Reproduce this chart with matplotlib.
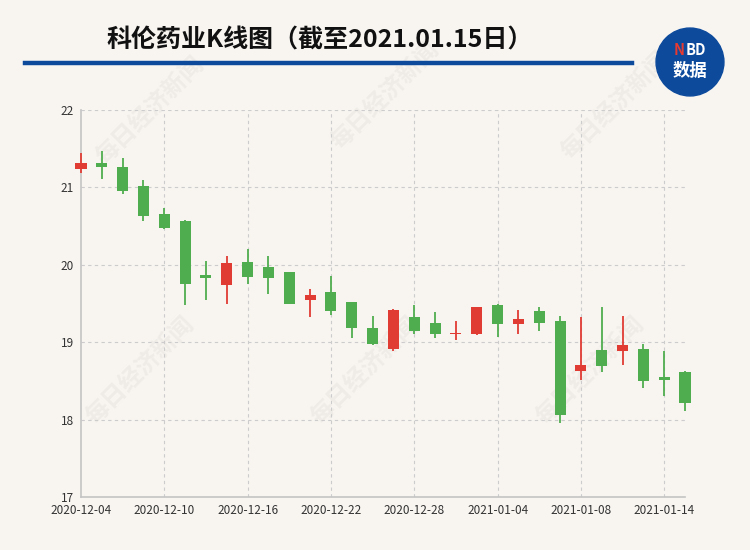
import matplotlib.pyplot as plt
from matplotlib.patches import Rectangle, Circle
import numpy as np

plt.rcParams['font.family'] = ['Noto Sans CJK SC', 'DejaVu Sans']

# K线数据（日期, 开盘, 收盘, 最低, 最高）
dates = ['2020-12-04', '2020-12-07', '2020-12-08', '2020-12-09', '2020-12-10',
         '2020-12-11', '2020-12-14', '2020-12-15', '2020-12-16', '2020-12-17',
         '2020-12-18', '2020-12-21', '2020-12-22', '2020-12-23', '2020-12-24',
         '2020-12-25', '2020-12-28', '2020-12-29', '2020-12-30', '2020-12-31',
         '2021-01-04', '2021-01-05', '2021-01-06', '2021-01-07', '2021-01-08',
         '2021-01-11', '2021-01-12', '2021-01-13', '2021-01-14', '2021-01-15']
opens = [21.24, 21.32, 21.27, 21.02, 20.65, 20.57, 19.87, 19.74, 20.03, 19.97,
         19.91, 19.54, 19.65, 19.52, 19.18, 18.91, 19.33, 19.25, 19.11, 19.11,
         19.48, 19.24, 19.40, 19.28, 18.63, 18.90, 18.88, 18.91, 18.55, 18.62]
closes = [21.32, 21.26, 20.95, 20.63, 20.47, 19.75, 19.83, 20.02, 19.84, 19.83,
          19.50, 19.61, 19.40, 19.18, 18.98, 19.42, 19.14, 19.10, 19.12, 19.45,
          19.24, 19.30, 19.25, 18.06, 18.71, 18.69, 18.96, 18.50, 18.51, 18.22]
lows = [21.18, 21.11, 20.92, 20.56, 20.46, 19.48, 19.55, 19.49, 19.75, 19.62,
        19.50, 19.32, 19.35, 19.06, 18.97, 18.89, 19.11, 19.05, 19.03, 19.09,
        19.07, 19.10, 19.15, 17.95, 18.51, 18.61, 18.70, 18.41, 18.31, 18.11]
highs = [21.44, 21.47, 21.38, 21.10, 20.73, 20.58, 20.05, 20.11, 20.21, 20.12,
         19.91, 19.69, 19.86, 19.52, 19.34, 19.43, 19.48, 19.39, 19.28, 19.46,
         19.49, 19.41, 19.46, 19.34, 19.33, 19.45, 19.34, 18.98, 18.88, 18.63]
tick_dates = ['2020-12-04', '2020-12-10', '2020-12-16', '2020-12-22',
              '2020-12-28', '2021-01-04', '2021-01-08', '2021-01-14']
y_ticks = [17, 18, 19, 20, 21, 22]

bg = '#f8f5f1'
up_color = '#e03c34'
down_color = '#50ad4f'

fig = plt.figure(figsize=(7.5, 5.5), dpi=100, facecolor=bg)

# 水印（放在坐标轴下面）
for wx, wy in [(150, 110), (385, 95), (615, 105), (140, 370), (365, 370), (590, 370)]:
    fig.text(wx / 750, 1 - wy / 550, '每日经济新闻', rotation=45, fontsize=17,
             color='#efebe6', ha='center', va='center', fontweight='bold', zorder=-5)

ax = fig.add_axes([81 / 750, 53 / 550, 604 / 750, 387 / 550])
ax.patch.set_alpha(0)

x = np.arange(len(dates))
w = 0.53
for i in x:
    o, c, lo, hi = opens[i], closes[i], lows[i], highs[i]
    col = up_color if c >= o else down_color
    ax.plot([i, i], [lo, hi], color=col, lw=1.3, zorder=3, clip_on=False, solid_capstyle='butt')
    bottom = min(o, c)
    h = max(abs(c - o), 0.015)
    ax.add_patch(Rectangle((i - w / 2, bottom), w, h, facecolor=col, edgecolor='none',
                           zorder=4, clip_on=False))

ax.set_xlim(0, len(dates) - 1)
ax.set_ylim(17, 22)
tick_pos = [dates.index(d) for d in tick_dates]
ax.set_xticks(tick_pos)
ax.set_xticklabels(tick_dates, fontsize=8.5, color='#333333')
ax.set_yticks(y_ticks)
ax.set_yticklabels([str(v) for v in y_ticks], fontsize=8.5, color='#333333')
ax.tick_params(length=0, pad=5)

for v in y_ticks[1:]:
    ax.axhline(v, color='#cccccc', lw=0.8, ls=(0, (3, 3)), zorder=1)
for p in tick_pos[1:]:
    ax.axvline(p, color='#cccccc', lw=0.8, ls=(0, (3, 3)), zorder=1)

for s in ['top', 'right']:
    ax.spines[s].set_visible(False)
for s in ['left', 'bottom']:
    ax.spines[s].set_color('#c4c4c4')
    ax.spines[s].set_linewidth(1.2)

# 标题与横线
fig.text(320 / 750, 1 - 40 / 550, '科伦药业K线图（截至2021.01.15日）', fontsize=18,
         fontweight='bold', ha='center', va='center', color='#111111')
fig.add_artist(plt.Line2D([25 / 750, 632 / 750], [1 - 63 / 550, 1 - 63 / 550],
                          color='#0d4a9c', lw=3.2))

# NBD标志
logo = fig.add_axes([655 / 750, 1 - 97 / 550, 70 / 750, 70 / 550])
logo.set_xlim(-1, 1)
logo.set_ylim(-1, 1)
logo.set_aspect('equal')
logo.axis('off')
logo.add_patch(Circle((0, 0), 0.97, color='#0d4a9c'))
logo.text(-0.32, 0.33, 'N', color='#e83a2f', fontsize=10.5, fontweight='bold', ha='center', va='center')
logo.text(0.17, 0.33, 'BD', color='white', fontsize=10.5, fontweight='bold', ha='center', va='center')
logo.text(0, -0.27, '数据', color='white', fontsize=12.5, fontweight='bold', ha='center', va='center')

fig.savefig('out.png', dpi=100, facecolor=bg)
